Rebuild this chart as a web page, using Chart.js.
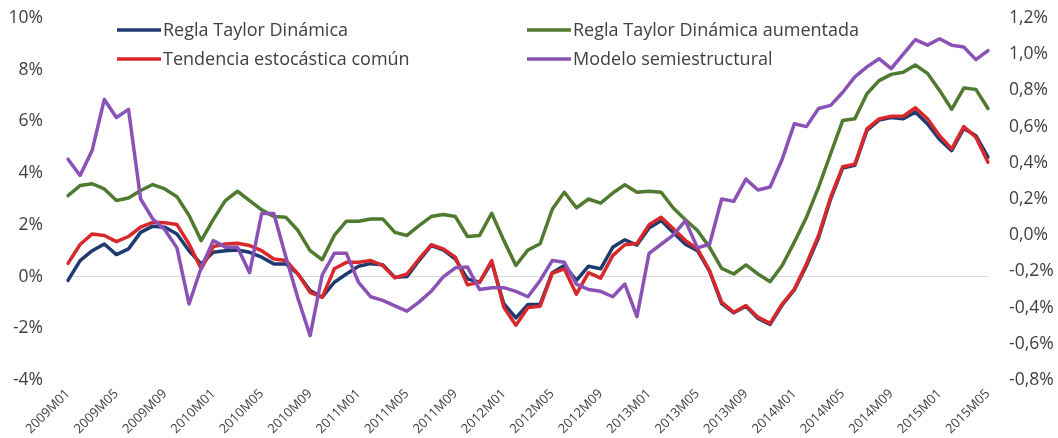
<!DOCTYPE html>
<html>
<head>
<meta charset="utf-8">
<script src="https://cdn.jsdelivr.net/npm/chart.js@4.4.0/dist/chart.umd.min.js"></script>
<style>
    html, body { margin: 0; background: #fff; }
    #wrap { width: 1058px; height: 438px; }
</style>
</head>
<body>
<div id="wrap"><canvas id="chart" width="1058" height="438"></canvas></div>
<script>
const periods = [
    '2009M01', '2009M02', '2009M03', '2009M04', '2009M05', '2009M06', '2009M07', '2009M08', '2009M09', '2009M10', '2009M11', '2009M12',
    '2010M01', '2010M02', '2010M03', '2010M04', '2010M05', '2010M06', '2010M07', '2010M08', '2010M09', '2010M10', '2010M11', '2010M12',
    '2011M01', '2011M02', '2011M03', '2011M04', '2011M05', '2011M06', '2011M07', '2011M08', '2011M09', '2011M10', '2011M11', '2011M12',
    '2012M01', '2012M02', '2012M03', '2012M04', '2012M05', '2012M06', '2012M07', '2012M08', '2012M09', '2012M10', '2012M11', '2012M12',
    '2013M01', '2013M02', '2013M03', '2013M04', '2013M05', '2013M06', '2013M07', '2013M08', '2013M09', '2013M10', '2013M11', '2013M12',
    '2014M01', '2014M02', '2014M03', '2014M04', '2014M05', '2014M06', '2014M07', '2014M08', '2014M09', '2014M10', '2014M11', '2014M12',
    '2015M01', '2015M02', '2015M03', '2015M04', '2015M05'
];

// left axis (%)
const taylorDinamica = [
    -0.15, 0.62, 1.0, 1.26, 0.85, 1.07, 1.71, 1.95, 1.91, 1.65, 1.0, 0.49,
    0.94, 1.0, 1.03, 0.94, 0.75, 0.49, 0.49, 0.1, -0.54, -0.8, -0.22, 0.1,
    0.4, 0.5, 0.46, -0.03, 0.0, 0.62, 1.2, 1.03, 0.68, -0.09, -0.22, 0.55,
    -1.05, -1.6, -1.08, -1.08, 0.15, 0.43, -0.15, 0.4, 0.3, 1.13, 1.42, 1.22,
    1.88, 2.17, 1.7, 1.25, 1.0, 0.2, -1.05, -1.4, -1.15, -1.62, -1.85, -1.1,
    -0.52, 0.42, 1.5, 3.0, 4.2, 4.3, 5.65, 6.05, 6.15, 6.1, 6.36, 5.9,
    5.3, 4.87, 5.73, 5.45, 4.62
];
const taylorAumentada = [
    3.13, 3.52, 3.59, 3.39, 2.94, 3.04, 3.33, 3.56, 3.39, 3.09, 2.36, 1.39,
    2.2, 2.94, 3.3, 2.94, 2.58, 2.32, 2.29, 1.78, 1.0, 0.65, 1.59, 2.14,
    2.14, 2.23, 2.23, 1.71, 1.59, 1.97, 2.32, 2.4, 2.32, 1.55, 1.59, 2.45,
    1.4, 0.43, 1.03, 1.27, 2.6, 3.26, 2.66, 3.0, 2.84, 3.23, 3.55, 3.26,
    3.3, 3.26, 2.65, 2.2, 1.78, 1.13, 0.32, 0.1, 0.45, 0.1, -0.2, 0.43,
    1.33, 2.29, 3.45, 4.75, 6.04, 6.1, 7.07, 7.58, 7.82, 7.9, 8.18, 7.86,
    7.2, 6.47, 7.29, 7.24, 6.5
];
const tendenciaComun = [
    0.51, 1.24, 1.65, 1.59, 1.35, 1.55, 1.91, 2.1, 2.08, 2.01, 1.26, 0.3,
    1.16, 1.26, 1.29, 1.2, 1.0, 0.68, 0.62, 0.1, -0.61, -0.8, 0.3, 0.55,
    0.55, 0.62, 0.43, -0.05, 0.1, 0.68, 1.23, 1.07, 0.75, -0.32, -0.22, 0.62,
    -1.19, -1.88, -1.2, -1.15, 0.12, 0.3, -0.68, 0.15, -0.06, 0.81, 1.23, 1.28,
    2.0, 2.29, 1.85, 1.4, 1.07, 0.23, -0.99, -1.38, -1.12, -1.57, -1.81, -1.06,
    -0.48, 0.49, 1.59, 3.07, 4.25, 4.35, 5.71, 6.1, 6.2, 6.2, 6.53, 6.1,
    5.45, 4.94, 5.8, 5.39, 4.42
];
// right axis (%)
const semiestructural = [
    0.42, 0.33, 0.47, 0.75, 0.65, 0.695, 0.2, 0.09, 0.03, -0.07, -0.38, -0.18,
    -0.03, -0.066, -0.066, -0.207, 0.12, 0.12, -0.12, -0.35, -0.555, -0.22, -0.1, -0.1,
    -0.26, -0.34, -0.36, -0.39, -0.42, -0.37, -0.31, -0.23, -0.18, -0.176, -0.3, -0.29,
    -0.29, -0.31, -0.34, -0.25, -0.14, -0.15, -0.27, -0.3, -0.31, -0.34, -0.27, -0.45,
    -0.1, -0.05, 0.0, 0.08, -0.07, -0.05, 0.2, 0.187, 0.31, 0.25, 0.266, 0.42,
    0.616, 0.6, 0.7, 0.717, 0.79, 0.875, 0.93, 0.975, 0.92, 1.0, 1.08, 1.05,
    1.085, 1.05, 1.04, 0.97, 1.02
];

const textColor = '#404040';
const fontFamily = '"Open Sans", "Liberation Sans", sans-serif';

// legend drawn inside the plot, two columns like the original
const legendInside = {
    id: 'legendInside',
    afterDraw(chart) {
        const ctx = chart.ctx;
        const slots = [[117, 30], [527, 30], [117, 59], [527, 59]];
        ctx.save();
        ctx.font = '18px ' + fontFamily;
        ctx.textBaseline = 'middle';
        chart.data.datasets.forEach((ds, i) => {
            const [x, y] = slots[i];
            ctx.strokeStyle = ds.borderColor;
            ctx.lineWidth = 3.5;
            ctx.beginPath();
            ctx.moveTo(x, y);
            ctx.lineTo(x + 44, y);
            ctx.stroke();
            ctx.fillStyle = textColor;
            ctx.fillText(ds.label, x + 46, y + 1);
        });
        ctx.restore();
    }
};

// keep tick padding from pushing the plot area down
function fixVertical(width) {
    return function (scale) {
        scale.width = width;
        scale.paddingTop = 10;
        scale.paddingBottom = 10;
    };
}

const ctx = document.getElementById('chart').getContext('2d');
new Chart(ctx, {
    type: 'line',
    data: {
        labels: periods,
        datasets: [
            {
                label: 'Regla Taylor Dinámica',
                data: taylorDinamica,
                borderColor: '#1f3a70',
                yAxisID: 'y',
                order: 3
            },
            {
                label: 'Regla Taylor Dinámica aumentada',
                data: taylorAumentada,
                borderColor: '#4f7a2f',
                yAxisID: 'y',
                order: 2
            },
            {
                label: 'Tendencia estocástica común',
                data: tendenciaComun,
                borderColor: '#d9282b',
                yAxisID: 'y',
                order: 1
            },
            {
                label: 'Modelo semiestructural',
                data: semiestructural,
                borderColor: '#8a52b6',
                yAxisID: 'y1',
                order: 0
            }
        ]
    },
    options: {
        responsive: false,
        animation: false,
        devicePixelRatio: 1,
        layout: {
            padding: { top: 18, left: 0, right: 0, bottom: 0 }
        },
        elements: {
            point: { radius: 0 },
            line: { borderWidth: 3.5, tension: 0, borderJoinStyle: 'round', borderCapStyle: 'round' }
        },
        plugins: {
            legend: { display: false },
            tooltip: { enabled: false }
        },
        scales: {
            x: {
                offset: false,
                grid: { display: false, drawTicks: false },
                border: { display: false },
                afterFit: function (scale) { scale.height = 58; },
                ticks: {
                    autoSkip: false,
                    minRotation: 45,
                    maxRotation: 45,
                    padding: 6,
                    color: textColor,
                    font: { family: fontFamily, size: 13 },
                    callback: function (value, index) {
                        return index % 4 === 0 ? this.getLabelForValue(value) : '';
                    }
                }
            },
            y: {
                position: 'left',
                min: -4,
                max: 10,
                afterFit: fixVertical(68),
                grid: {
                    drawTicks: false,
                    lineWidth: 1,
                    color: function (c) {
                        return c.tick && c.tick.value === 0 ? '#d9d9d9' : 'rgba(0,0,0,0)';
                    }
                },
                border: { display: false },
                ticks: {
                    stepSize: 2,
                    padding: 25,
                    color: textColor,
                    font: { family: fontFamily, size: 17.5 },
                    callback: function (value) {
                        return value + '%';
                    }
                }
            },
            y1: {
                position: 'right',
                min: -0.8,
                max: 1.2,
                afterFit: fixVertical(70),
                grid: { display: false, drawTicks: false },
                border: { display: false },
                ticks: {
                    stepSize: 0.2,
                    padding: 21,
                    color: textColor,
                    font: { family: fontFamily, size: 17.5 },
                    callback: function (value) {
                        return value.toFixed(1).replace('.', ',') + '%';
                    }
                }
            }
        }
    },
    plugins: [legendInside]
});
</script>
</body>
</html>
